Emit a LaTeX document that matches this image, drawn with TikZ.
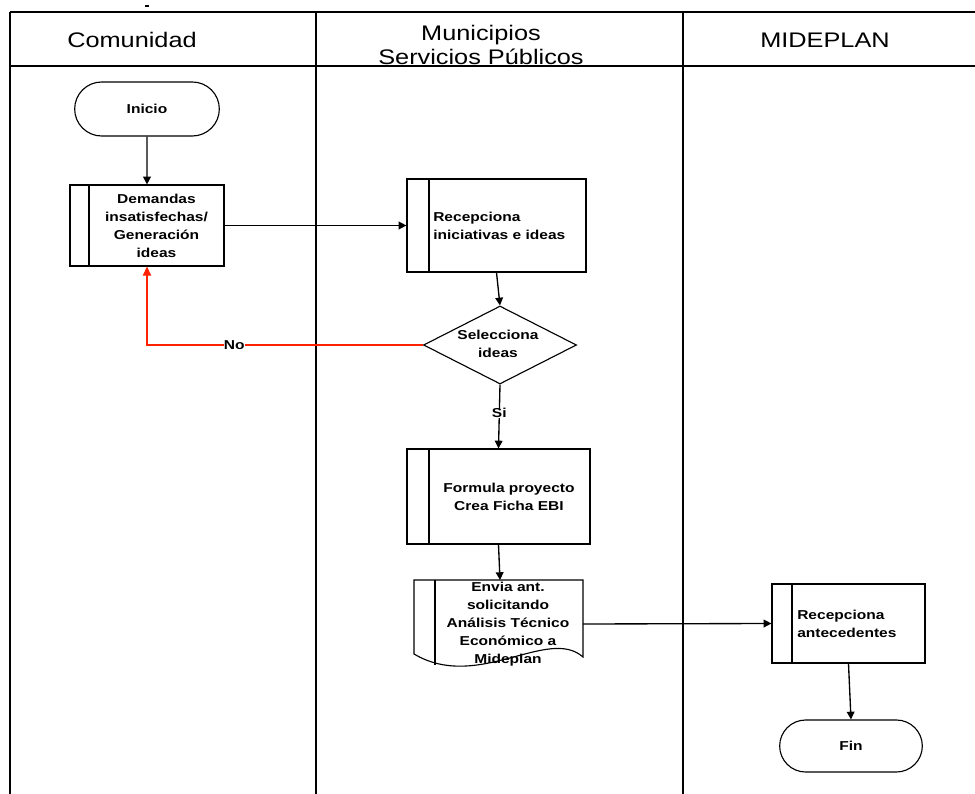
\documentclass[tikz,border=0pt]{standalone}
\usepackage{fontspec}
\setmainfont[FakeStretch=1.2]{Liberation Sans}
\usetikzlibrary{shapes.misc,shapes.geometric,arrows.meta,calc}
\definecolor{red1}{HTML}{FF2200}

\tikzset{
lane/.style={line width=0.9pt},
head/.style={font=\fontsize{15}{17.5}\selectfont, align=center},
term/.style={rounded rectangle, draw, line width=0.8pt, minimum width=3.85cm, minimum height=1.35cm, font=\fontsize{9.2}{12.8}\selectfont\bfseries},
proc/.style={draw, line width=0.8pt, inner sep=0pt, path picture={\draw[line width=0.8pt] ([xshift=#1]path picture bounding box.north west) -- ([xshift=#1]path picture bounding box.south west);}},
proc/.default=0.5cm,
dia/.style={diamond, draw, line width=0.8pt, inner sep=0pt, minimum width=3.825cm, minimum height=1.95cm},
txt/.style={font=\fontsize{9.2}{12.8}\selectfont\bfseries, align=center, inner sep=0pt},
arr/.style={line width=0.95pt, -{Triangle[length=5.5pt,width=5.5pt]}},
no/.style={red1, line width=0.95pt, -{Triangle[length=6.5pt,width=6pt]}}
}

\begin{document}
\begin{tikzpicture}[x=0.025cm,y=-0.025cm]

\useasboundingbox (0,0) rectangle (975,794);

% lanes
\draw[lane] (10,12) -- (975,12);
\draw[lane] (10,66) -- (975,66);
\draw[lane] (10,12) -- (10,794);
\draw[lane] (316,12) -- (316,794);
\draw[lane] (683,12) -- (683,794);
\draw[line width=1.2pt] (145,6) -- (149,6);

\node[head] (hcom) at (132,40) {Comunidad};
\node[head] (hmun) at (481,45) {Municipios\\Servicios Públicos};
\node[head] (hmid) at (825,40) {MIDEPLAN};

% nodes
\node[term] (ini) at (147,109) {Inicio};

\node[proc=0.475cm, minimum width=3.85cm, minimum height=2.025cm] (dem) at (147,225.5) {};
\node[txt] (demt) at (156.5,225.5) {Demandas\\insatisfechas/\\Generación\\ideas};

\node[proc=0.55cm, minimum width=4.475cm, minimum height=2.325cm] (rec) at (496.5,225.5) {};
\node[txt, anchor=west, align=left] (rect) at (433,225.5) {Recepciona\\iniciativas e ideas};

\node[dia] (sel) at (500,345) {};
\node[txt] (selt) at (498,344) {Selecciona\\ideas};

\node[proc=0.55cm, minimum width=4.575cm, minimum height=2.375cm] (form) at (498.5,496.5) {};
\node[txt] (formt) at (509,496.5) {Formula proyecto\\Crea Ficha EBI};

% document shape
\draw[line width=0.8pt] (414,580) -- (583,580) -- (583,657) .. controls (548,626) and (478,692) .. (414,654) -- cycle;
\draw[line width=0.8pt] (435,580) -- (435,665);
\coordinate (envN) at (500,580);
\coordinate (envE) at (583,624);
\node[txt] (envt) at (508,624) {Envia ant.\\solicitando\\Análisis Técnico\\Económico a\\Mideplan};

\node[proc, minimum width=3.825cm, minimum height=1.975cm] (recant) at (848.5,623.5) {};
\node[txt, anchor=west, align=left] (recantt) at (797,624) {Recepciona\\antecedentes};

\node[term, minimum width=3.8cm, minimum height=1.3cm] (fin) at (851,746) {Fin};

% connectors
\draw[arr] (ini) -- (dem);
\draw[arr] (dem) -- (rec);
\draw[arr] (rec.south) -- (sel.north);
\draw[no] (sel.west) -| node[pos=0.342, fill=white, inner sep=1pt, text=black, txt] {No} (dem.south);
\draw[arr] (sel.south) -- node[pos=0.45, fill=white, inner sep=1.5pt, txt] {Si} (form.north);
\draw[arr] (form.south) -- (envN);
\draw[arr] (envE) -- (recant.west);
\draw[arr] (recant.south) -- (fin.north);

\end{tikzpicture}
\end{document}
